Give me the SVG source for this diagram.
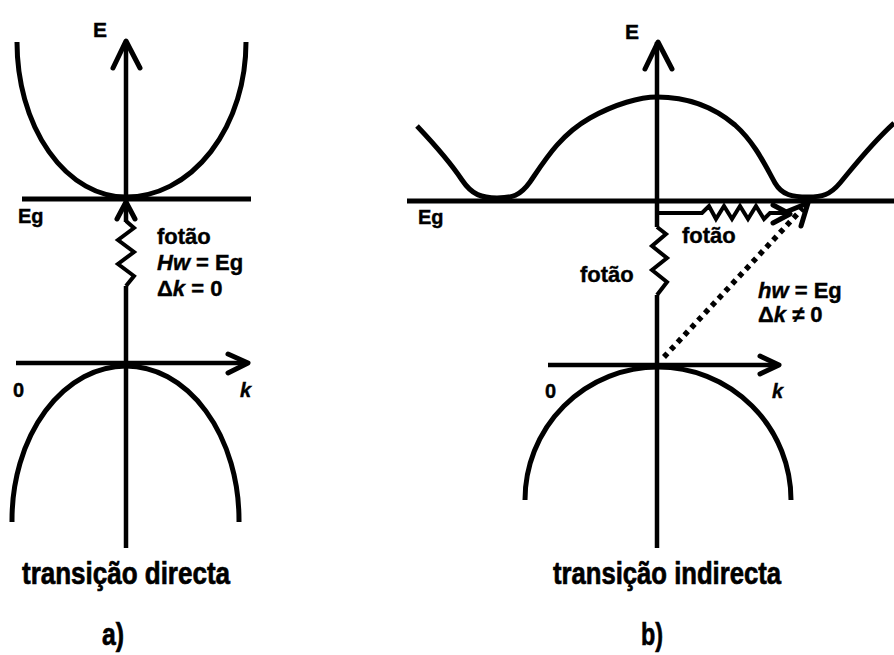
<svg xmlns="http://www.w3.org/2000/svg" width="894" height="655" viewBox="0 0 894 655">
<style>
.ln{fill:none;stroke:#000;stroke-width:5;stroke-linecap:butt;stroke-linejoin:round}
.ax{fill:none;stroke:#000;stroke-width:4.5}
.ah{fill:none;stroke:#000;stroke-width:5;stroke-linecap:round;stroke-linejoin:round}
.zz{fill:none;stroke:#000;stroke-width:4;stroke-linejoin:miter;stroke-miterlimit:10}
.dot{fill:none;stroke:#000;stroke-width:5.5;stroke-dasharray:5 5}
text{font-family:"Liberation Sans",Arial,sans-serif;font-weight:bold;fill:#000;stroke:#000;stroke-width:0.4}
.lb{font-size:22px}
.sm{font-size:20px}
.big{font-size:32px;stroke-width:0.7}
.it{font-style:italic}
</style>
<rect width="894" height="655" fill="#fff"/>

<g id="panel-a">
  <g id="a-conduction"><path class="ln" d="M17,42 A109,155 0 0 0 126,197 A120,155 0 0 0 246,42"/></g>
  <g id="a-valence"><path class="ln" d="M12,522 V520 A114,154 0 0 1 126,366 A113,154 0 0 1 239,520 V522"/></g>
  <g id="a-eg-line"><path class="ln" d="M22,199 H251"/></g>
  <g id="a-labels">
    <text class="lb" x="93" y="37" style="font-size:21px">E</text>
    <text class="sm" x="18" y="223">Eg</text>
    <text class="lb" x="157" y="244">fotão</text>
    <text class="lb" x="157" y="270"><tspan class="it">Hw</tspan> = Eg</text>
    <text class="lb" x="157" y="296">Δ<tspan class="it">k</tspan> = 0</text>
    <text class="sm" x="13" y="397">0</text>
    <text class="sm it" x="240" y="397">k</text>
    <text class="big" x="22" y="584" textLength="208" lengthAdjust="spacingAndGlyphs">transição directa</text>
    <text class="big" x="102" y="645" textLength="22" lengthAdjust="spacingAndGlyphs">a)</text>
  </g>
</g>

<g id="panel-b">
  <g id="b-conduction"><path class="ln" d="M417,126 C435,145 450,162 462,180 C472,195 482,198 497,198 C512,198 520,196 530,182 C545,160 560,135 590,118 C615,104 640,97 657,97 C690,97 715,108 735,125 C755,143 765,165 775,183 C782,195 792,197 808,197 C822,197 830,195 840,183 C855,165 870,145 894,123"/></g>
  <g id="b-valence"><path class="ln" d="M525,500 A133,133 0 0 1 791,500"/></g>
  <g id="b-eg-line"><path class="ln" d="M407,201 H894"/></g>
  <g id="b-labels">
    <text class="lb" x="625" y="39" style="font-size:21px">E</text>
    <text class="sm" x="418" y="224">Eg</text>
    <text class="lb" x="682" y="243">fotão</text>
    <text class="lb" x="580" y="282">fotão</text>
    <text class="lb" x="758" y="298"><tspan class="it">hw</tspan> = Eg</text>
    <text class="lb" x="758" y="322">Δ<tspan class="it">k</tspan> ≠ 0</text>
    <text class="sm" x="545" y="398">0</text>
    <text class="sm it" x="772" y="398">k</text>
    <text class="big" x="553" y="584" textLength="228" lengthAdjust="spacingAndGlyphs">transição indirecta</text>
    <text class="big" x="641" y="645" textLength="22" lengthAdjust="spacingAndGlyphs">b)</text>
  </g>
</g>

<g id="connectors">
  <path class="ax" d="M126,548 V286"/>
  <path class="ax" d="M126,222 V42"/>
  <path class="ah" d="M113,68 L126,41 L140,68"/>
  <path class="ax" d="M16,363 H246"/>
  <path class="ah" d="M228,354 L248,363 L228,373"/>
  <path class="zz" d="M126,221 L134,228 L118,240 L134,252 L118,264 L134,276 L126,286"/>
  <path class="ah" d="M117,219 L126,202 L135,219"/>
  <path class="ax" d="M657,548 V295"/>
  <path class="ax" d="M657,227 V42"/>
  <path class="ah" d="M645,69 L658,42 L672,69"/>
  <path class="ax" d="M548,365 H777"/>
  <path class="ah" d="M760,356 L779,365 L760,374"/>
  <path class="zz" d="M657,227 L666,234 L652,246 L667,258 L652,270 L667,282 L657,295"/>
  <path class="zz" d="M657,213 H702 L709,206 L716,219 L724,206 L732,219 L740,206 L748,219 L756,206 L764,219 L770,213 H788"/>
  <path class="ah" d="M773,205 L790,214 L773,223"/>
  <path class="dot" d="M664,357 L803,208"/>
  <path class="ah" d="M786,212 L808,203 L801,226"/>
</g>
</svg>
